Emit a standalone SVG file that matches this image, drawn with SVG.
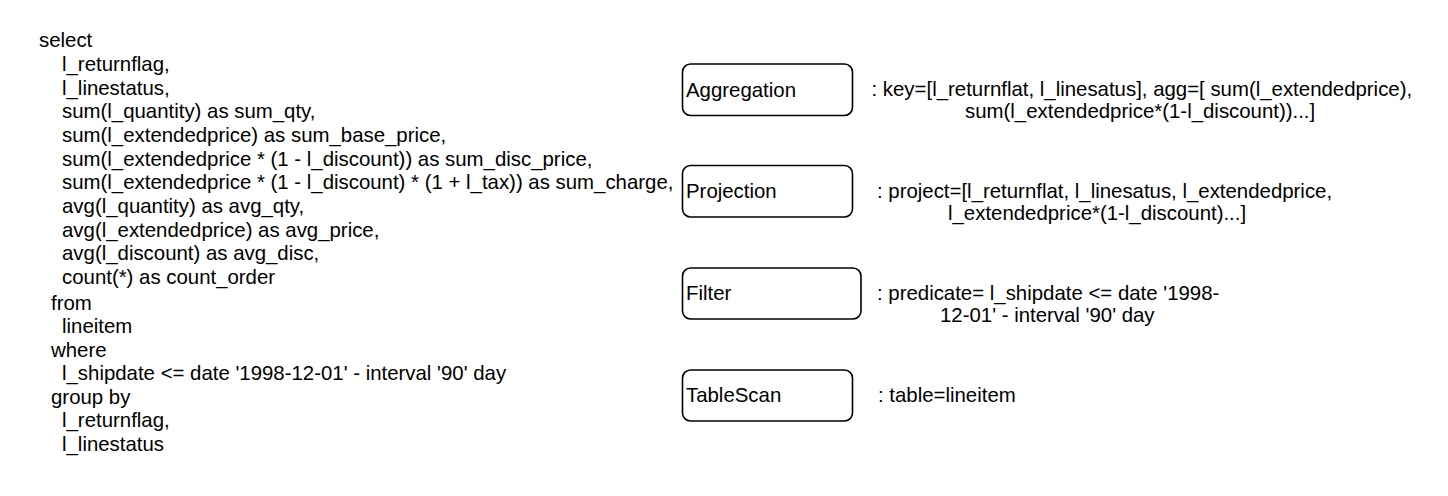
<svg xmlns="http://www.w3.org/2000/svg" width="1448" height="496" viewBox="0 0 1448 496">
<style>
text { font-family: "Liberation Sans", Arial, Helvetica, sans-serif; font-size: 20.4px; fill: #000; }
.box { fill: #fff; stroke: #000; stroke-width: 1.6; }
</style>
<rect x="0" y="0" width="1448" height="496" fill="#fff"/>
<g id="sql">
<text x="39" y="47">select</text>
<text x="62" y="70.5">l_returnflag,</text>
<text x="62" y="94.5">l_linestatus,</text>
<text x="62" y="118">sum(l_quantity) as sum_qty,</text>
<text x="62" y="142">sum(l_extendedprice) as sum_base_price,</text>
<text x="62" y="165.5">sum(l_extendedprice * (1 - l_discount)) as sum_disc_price,</text>
<text x="62" y="189">sum(l_extendedprice * (1 - l_discount) * (1 + l_tax)) as sum_charge,</text>
<text x="62" y="213">avg(l_quantity) as avg_qty,</text>
<text x="62" y="236.5">avg(l_extendedprice) as avg_price,</text>
<text x="62" y="260">avg(l_discount) as avg_disc,</text>
<text x="62" y="284">count(*) as count_order</text>
<text x="51" y="309.5">from</text>
<text x="62" y="333">lineitem</text>
<text x="51" y="356.5">where</text>
<text x="62" y="380">l_shipdate &lt;= date '1998-12-01' - interval '90' day</text>
<text x="51" y="403.5">group by</text>
<text x="62" y="427">l_returnflag,</text>
<text x="62" y="450.5">l_linestatus</text>
</g>
<g id="aggregation">
<rect class="box" x="682.5" y="64" width="170" height="51.5" rx="8"/>
<text x="686" y="96.5">Aggregation</text>
</g>
<g id="aggregation-label">
<text x="871.5" y="96">: key=[l_returnflat, l_linesatus], agg=[ sum(l_extendedprice),</text>
<text x="965" y="118">sum(l_extendedprice*(1-l_discount))...]</text>
</g>
<g id="projection">
<rect class="box" x="682.5" y="165.5" width="170" height="51.5" rx="8"/>
<text x="686" y="198">Projection</text>
</g>
<g id="projection-label">
<text x="877" y="198">: project=[l_returnflat, l_linesatus, l_extendedprice,</text>
<text x="948" y="220">l_extendedprice*(1-l_discount)...]</text>
</g>
<g id="filter">
<rect class="box" x="682.5" y="268" width="178.5" height="51" rx="8"/>
<text x="686" y="300">Filter</text>
</g>
<g id="filter-label">
<text x="877" y="300">: predicate= l_shipdate &lt;= date '1998-</text>
<text x="940" y="322">12-01' - interval '90' day</text>
</g>
<g id="tablescan">
<rect class="box" x="682.5" y="370" width="170" height="51" rx="8"/>
<text x="686" y="402">TableScan</text>
</g>
<g id="tablescan-label">
<text x="878" y="402">: table=lineitem</text>
</g>
<g id="connectors"></g>
</svg>
